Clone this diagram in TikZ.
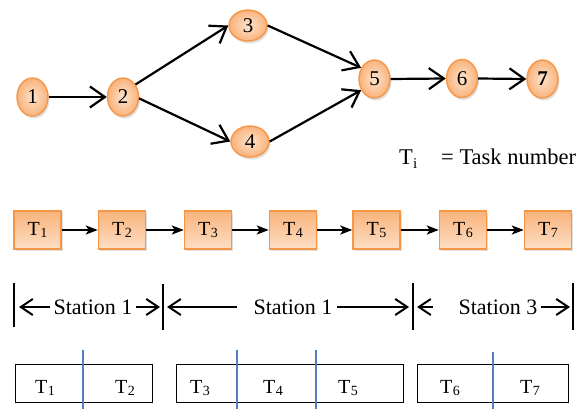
\documentclass[tikz,border=0pt]{standalone}
\usepackage{fontspec}
\setmainfont{Liberation Serif}
\usetikzlibrary{arrows.meta,shadows,shapes.geometric}
\definecolor{borange}{HTML}{F79646}
\definecolor{lorange}{HTML}{FDE3CC}
\definecolor{morange}{HTML}{F9B37C}
\definecolor{bblue}{HTML}{4F81BD}
\newcommand\tsub[1]{T\kern0.3pt\raisebox{-0.3ex}{\fontsize{14}{14}\selectfont #1}}
\begin{document}
\begin{tikzpicture}[x=1pt,y=-1pt,
  txt/.style={font=\fontsize{20}{20}\selectfont, inner sep=0pt},
  ev/.style={ellipse, draw=borange, line width=1.4pt, inner color=lorange, outer color=morange,
    inner sep=0pt, minimum width=31pt, minimum height=38pt, font=\fontsize{21}{21}\selectfont,
    drop shadow={opacity=0.25, shadow xshift=1.5pt, shadow yshift=-2.5pt}},
  evw/.style={ev, minimum width=38pt, minimum height=31pt},
  tb/.style={rectangle, draw=borange, line width=1.4pt, top color=morange, bottom color=lorange!90!morange,
    inner sep=0pt, minimum width=47pt, minimum height=38pt, font=\fontsize{20}{20}\selectfont,
    drop shadow={opacity=0.25, shadow xshift=1.5pt, shadow yshift=-2.5pt}},
  oarr/.style={line width=2.2pt, -{Straight Barb[length=15pt, width=21pt, line width=2.2pt]}},
  farr/.style={line width=2.2pt, -{Stealth[length=12pt, width=9pt, inset=3pt]}},
  sarr/.style={line width=2pt, -{Straight Barb[length=12pt, width=16pt, line width=2pt]}},
  wbox/.style={rectangle, draw=black, line width=1pt, inner sep=0pt, minimum height=38pt},
  bline/.style={draw=bblue, line width=1.4pt},
  bar/.style={line width=1.8pt}
]
\useasboundingbox (0,0) rectangle (587,409);

% precedence graph
\node[ev] (n1) at (32.5,97) {1};
\node[ev] (n2) at (123,97) {2};
\node[evw] (n3) at (248,25.5) {3};
\node[evw] (n4) at (250,141.5) {4};
\node[ev] (n5) at (374.5,79) {5};
\node[ev] (n6) at (462,78.5) {6};
\node[ev] (n7) at (542.5,79) {\textbf{7}};
\draw[oarr] (n1.east) -- (n2.west);
\draw[oarr] (n2.45) -- (n3.west);
\draw[oarr] (n2.-5) -- (n4.west);
\draw[oarr] (n3.east) -- (n5.140);
\draw[oarr] (n4.east) -- (n5.220);
\draw[oarr] (n5.east) -- (n6.west);
\draw[oarr] (n6.east) -- (n7.west);

% legend
\node[txt, anchor=base west, font=\fontsize{22.5}{22.5}\selectfont] (leg1) at (399,165) {T\kern0.3pt\raisebox{-0.3ex}{\fontsize{15}{15}\selectfont i}};
\node[txt, anchor=base west, font=\fontsize{22.5}{22.5}\selectfont] (leg2) at (441,165) {= Task number};

% task row
\node[tb] (t1) at (37.5,230) {\tsub{1}};
\node[tb] (t2) at (122,230) {\tsub{2}};
\node[tb] (t3) at (208,230) {\tsub{3}};
\node[tb] (t4) at (293,230) {\tsub{4}};
\node[tb] (t5) at (376.5,230) {\tsub{5}};
\node[tb] (t6) at (463,230) {\tsub{6}};
\node[tb] (t7) at (548,230) {\tsub{7}};
\foreach \a/\b in {t1/t2,t2/t3,t3/t4,t4/t5,t5/t6,t6/t7}
  \draw[farr] (\a.east) -- (\b.west);

% stations
\coordinate (b1t) at (14,283); \coordinate (b1b) at (14,327);
\coordinate (b2t) at (163,284); \coordinate (b2b) at (163,330);
\coordinate (b3t) at (413,283); \coordinate (b3b) at (413,330);
\coordinate (b4t) at (573,283); \coordinate (b4b) at (573,330);
\foreach \p in {b1,b2,b3,b4} \draw[bar] (\p t) -- (\p b);
\node[txt, font=\fontsize{22}{22}\selectfont] (s1) at (93,307) {Station 1};
\node[txt, font=\fontsize{22}{22}\selectfont] (s2) at (293,307) {Station 1};
\node[txt, font=\fontsize{22}{22}\selectfont] (s3) at (498,307) {Station 3};
\coordinate (a1l) at (19,307); \coordinate (a1r) at (160,307);
\coordinate (a2l) at (167,307); \coordinate (a2r) at (409,307);
\coordinate (a3l) at (417,307); \coordinate (a3r) at (570,307);
\coordinate (s1l) at (50,307); \coordinate (s1r) at (136,307);
\coordinate (s2l) at (237,307); \coordinate (s2r) at (337,307);
\coordinate (s3l) at (433,307); \coordinate (s3r) at (541,307);
\draw[sarr] (s1l) -- (a1l);
\draw[sarr] (s1r) -- (a1r);
\draw[sarr] (s2l) -- (a2l);
\draw[sarr] (s2r) -- (a2r);
\draw[sarr] (s3l) -- (a3l);
\draw[sarr] (s3r) -- (a3r);

% stations' task boxes
\node[wbox, minimum width=137pt] (w1) at (83.5,383) {};
\node[wbox, minimum width=227pt] (w2) at (289.5,383) {};
\node[wbox, minimum width=151pt] (w3) at (492.5,383) {};
\coordinate (l1t) at (83,350); \coordinate (l1b) at (83,409);
\coordinate (l2t) at (237,350); \coordinate (l2b) at (237,409);
\coordinate (l3t) at (316,350); \coordinate (l3b) at (316,409);
\coordinate (l4t) at (493,352); \coordinate (l4b) at (493,409);
\foreach \p in {l1,l2,l3,l4} \draw[bline] (\p t) -- (\p b);
\node[txt, anchor=base] (x1) at (45,393) {\tsub{1}};
\node[txt, anchor=base] (x2) at (125,393) {\tsub{2}};
\node[txt, anchor=base] (x3) at (200,393) {\tsub{3}};
\node[txt, anchor=base] (x4) at (273,393) {\tsub{4}};
\node[txt, anchor=base] (x5) at (348,393) {\tsub{5}};
\node[txt, anchor=base] (x6) at (450,393) {\tsub{6}};
\node[txt, anchor=base] (x7) at (530,393) {\tsub{7}};
\end{tikzpicture}
\end{document}
